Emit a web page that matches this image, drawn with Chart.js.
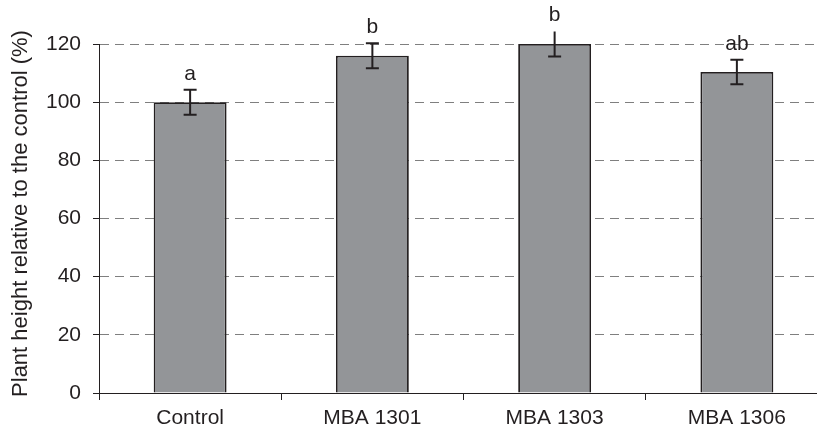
<!DOCTYPE html>
<html>
<head>
<meta charset="utf-8">
<script src="https://cdn.jsdelivr.net/npm/chart.js@4/dist/chart.umd.min.js"></script>
<style>
  html, body { margin: 0; padding: 0; background: #fff; overflow: hidden; }
  #wrap { width: 817px; height: 430px; overflow: hidden; }
  canvas { display: block; }
</style>
</head>
<body>
<div id="wrap">
  <canvas id="chart" width="840" height="430" style="width:840px;height:430px"></canvas>
</div>
<script>
const categories = ['Control', 'MBA 1301', 'MBA 1303', 'MBA 1306'];
const heights = [100, 116, 120, 110.4];
const errors = [4.3, 4.3, 4.3, 4.2];
const groups = ['a', 'b', 'b', 'ab'];
const topCaps = [true, true, false, true];
const yTicks = [0, 20, 40, 60, 80, 100, 120];
const yTitle = 'Plant height relative to the control (%)';

const ink = '#231f20';
const fontFamily = '"Liberation Sans", Arial, Helvetica, sans-serif';

// error bars, significance letters and the y title
const overlay = {
  id: 'overlay',
  afterDraw(chart) {
    const { ctx } = chart;
    const xs = chart.scales.x;
    const ys = chart.scales.y;
    ctx.save();
    ctx.strokeStyle = ink;
    ctx.lineWidth = 2;
    ctx.fillStyle = ink;
    ctx.font = '21px ' + fontFamily;
    ctx.textAlign = 'center';
    ctx.textBaseline = 'alphabetic';
    heights.forEach((v, i) => {
      const x = xs.getPixelForValue(i);
      const top = ys.getPixelForValue(v + errors[i]);
      const bot = ys.getPixelForValue(v - errors[i]);
      ctx.beginPath();
      ctx.moveTo(x, top);
      ctx.lineTo(x, bot);
      if (topCaps[i]) {
        ctx.moveTo(x - 6.5, top);
        ctx.lineTo(x + 6.5, top);
      }
      ctx.moveTo(x - 6.5, bot);
      ctx.lineTo(x + 6.5, bot);
      ctx.stroke();
      ctx.fillText(groups[i], x, top - 10);
    });

    // axis title, a bit above the plot centre like the original
    ctx.font = '22px ' + fontFamily;
    ctx.translate(27, (ys.top + ys.bottom) / 2 - 5);
    ctx.rotate(-Math.PI / 2);
    ctx.fillText(yTitle, 0, 0);
    ctx.restore();
  }
};

new Chart(document.getElementById('chart'), {
  type: 'bar',
  data: {
    labels: categories,
    datasets: [{
      data: heights,
      backgroundColor: '#939598',
      borderColor: ink,
      borderWidth: 1.8,
      categoryPercentage: 1,
      barPercentage: 0.4
    }]
  },
  options: {
    responsive: false,
    animation: false,
    layout: { padding: { top: 44, right: 12, bottom: 0, left: 0 } },
    plugins: {
      legend: { display: false },
      tooltip: { enabled: false }
    },
    scales: {
      x: {
        grid: {
          display: true,
          drawOnChartArea: false,
          drawTicks: true,
          tickLength: 7,
          tickColor: ink,
          offset: true
        },
        border: { display: true, color: ink, width: 1 },
        ticks: {
          color: ink,
          font: { size: 21, family: fontFamily },
          padding: 6,
          maxRotation: 0
        },
        afterFit(scale) { scale.height = 37; }
      },
      y: {
        min: 0,
        max: 120,
        z: 1,
        afterBuildTicks(scale) {
          scale.ticks = yTicks.map(v => ({ value: v }));
        },
        grid: {
          color: 'rgba(0,0,0,0.5)',
          lineWidth: 1,
          drawTicks: true,
          tickLength: 6,
          tickColor: ink,
          tickBorderDash: []
        },
        border: { display: true, color: ink, width: 1, dash: [9, 6] },
        ticks: {
          color: ink,
          font: { size: 21, family: fontFamily },
          padding: 12
        },
        afterFit(scale) { scale.width = 99; }
      }
    }
  },
  plugins: [overlay]
});
</script>
</body>
</html>
